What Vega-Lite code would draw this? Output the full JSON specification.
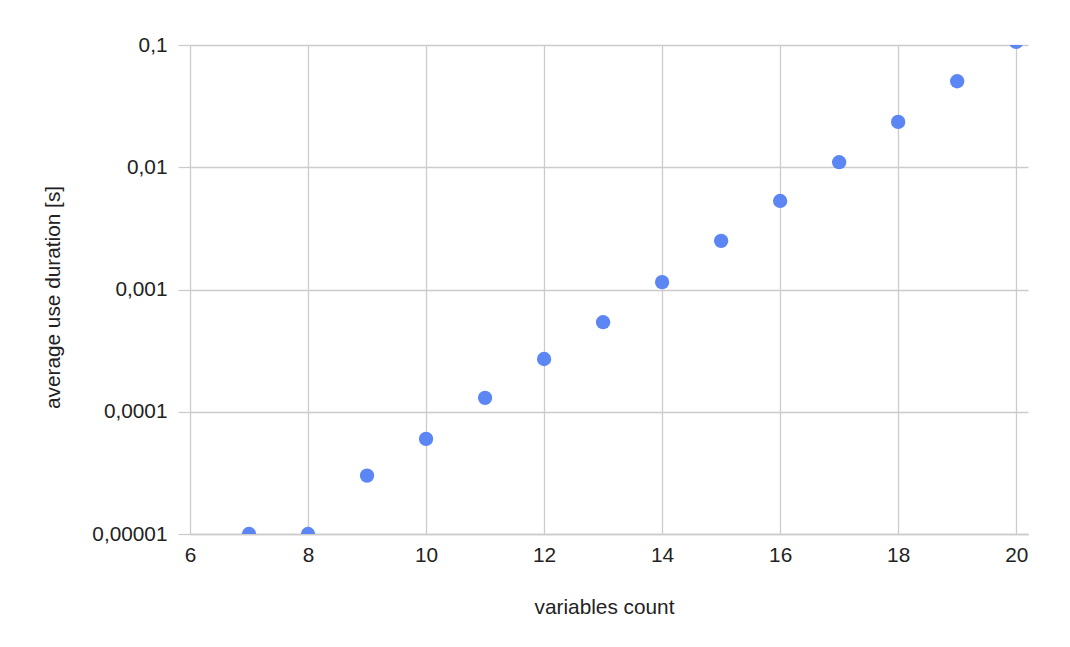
{
  "$schema": "https://vega.github.io/schema/vega-lite/v6.json",
  "autosize": {"type": "none"},
  "padding": {"left": 190, "top": 45, "right": 42, "bottom": 113},
  "width": 838,
  "height": 489,
  "background": "white",
  "config": {
    "view": {"stroke": null},
    "font": "Liberation Sans",
    "axis": {
      "labelFont": "Liberation Sans",
      "titleFont": "Liberation Sans",
      "labelFontSize": 20.8,
      "titleFontSize": 20.8,
      "titleFontWeight": "normal",
      "labelColor": "#222222",
      "titleColor": "#222222",
      "gridColor": "#cccccc",
      "gridOpacity": 1,
      "gridWidth": 1.3
    }
  },
  "data": {
    "values": [
      {"variables": 7, "duration": 0.00001},
      {"variables": 8, "duration": 0.00001},
      {"variables": 9, "duration": 0.00003},
      {"variables": 10, "duration": 0.00006},
      {"variables": 11, "duration": 0.00013},
      {"variables": 12, "duration": 0.00027},
      {"variables": 13, "duration": 0.00054},
      {"variables": 14, "duration": 0.00115},
      {"variables": 15, "duration": 0.0025},
      {"variables": 16, "duration": 0.0053},
      {"variables": 17, "duration": 0.011},
      {"variables": 18, "duration": 0.0235},
      {"variables": 19, "duration": 0.0505},
      {"variables": 20, "duration": 0.106}
    ]
  },
  "mark": {"type": "point", "filled": true, "size": 205, "color": "#5b86f3", "opacity": 1, "clip": true},
  "encoding": {
    "x": {
      "field": "variables",
      "type": "quantitative",
      "scale": {"domain": [6, 20.2], "nice": false, "zero": false},
      "axis": {
        "title": "variables count",
        "values": [6, 8, 10, 12, 14, 16, 18, 20],
        "domain": true,
        "domainColor": "#cccccc",
        "domainWidth": 1.3,
        "ticks": false,
        "tickSize": 0,
        "labelFlush": false,
        "labelPadding": 11,
        "labelBaseline": "top",
        "titleX": 414,
        "titleY": 79,
        "titleBaseline": "alphabetic",
        "titleAnchor": null
      }
    },
    "y": {
      "field": "duration",
      "type": "quantitative",
      "scale": {"type": "log", "domain": [0.00001, 0.1], "nice": false},
      "axis": {
        "title": "average use duration [s]",
        "values": [0.00001, 0.0001, 0.001, 0.01, 0.1],
        "labelExpr": "replace(format(datum.value, '~g'), '.', ',')",
        "domain": false,
        "ticks": true,
        "tickSize": 12,
        "tickColor": "#cccccc",
        "tickWidth": 1.3,
        "labelFlush": false,
        "labelPadding": 11,
        "titleAngle": -90,
        "titleX": -130.5,
        "titleY": 252,
        "titleAlign": "center",
        "titleBaseline": "alphabetic"
      }
    }
  }
}
